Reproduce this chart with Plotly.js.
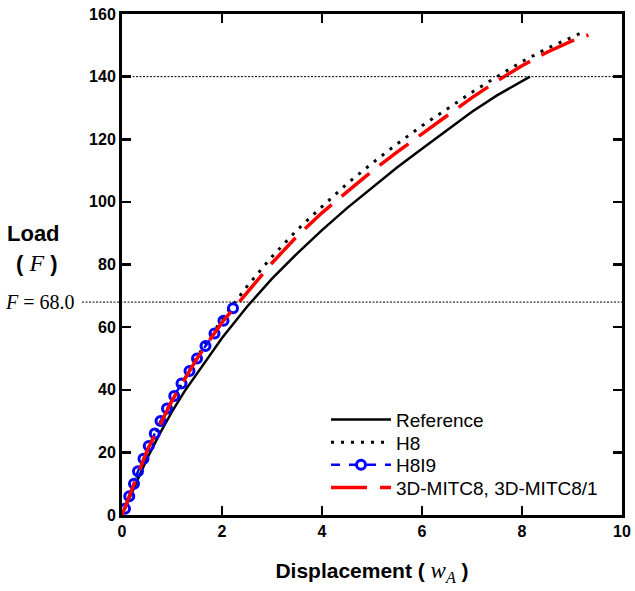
<!DOCTYPE html>
<html>
<head>
<meta charset="utf-8">
<script src="https://cdn.plot.ly/plotly-3.0.1.min.js"></script>
<style>
html, body { margin: 0; padding: 0; background: #fff; }
#chart { width: 635px; height: 591px; }
</style>
</head>
<body>
<div id="chart"></div>
<script>
// ---- data ----
const refX   = [0, 0.25, 0.5, 0.75, 1.0, 1.25, 1.5, 2.0, 2.5, 3.0, 3.5, 4.0, 4.5, 5.0, 5.5, 6.0, 6.5, 7.0, 7.5, 8.16];
const refF   = [0, 9.2, 18, 25.8, 33, 39.5, 45.2, 56.5, 66.5, 75.5, 83.5, 91, 98, 104.5, 111, 117, 123, 128.8, 134, 140];

const h8X    = [0, 0.5, 1.0, 1.5, 2.0, 2.5, 3.0, 3.5, 4.0, 4.5, 5.0, 5.5, 6.0, 6.5, 7.0, 7.5, 8.0, 8.5, 9.0, 9.19];
const h8F    = [0, 20.5, 36.5, 50.5, 62.5, 73, 82.5, 91, 98.5, 105.8, 112.3, 118.5, 124.3, 129.7, 135, 140, 144.8, 149, 152.7, 154];

const h8i9X  = [0.06, 0.145, 0.24, 0.32, 0.43, 0.535, 0.655, 0.77, 0.9, 1.045, 1.19, 1.35, 1.5, 1.67, 1.85, 2.03, 2.22];
const h8i9F  = [2, 6, 10, 14, 18, 22, 26, 30, 34, 38, 42, 46, 50, 54, 58, 62, 66];

const mitcX  = [0, 0.5, 1.0, 1.5, 2.0, 2.5, 3.0, 3.5, 4.0, 4.5, 5.0, 5.5, 6.0, 6.5, 7.0, 7.5, 8.0, 8.5, 9.0, 9.33];
const mitcF  = [0, 20.5, 36.5, 50, 61.5, 71.2, 80.5, 89, 96.5, 103.2, 109.8, 115.9, 121.7, 127.2, 133.3, 138.6, 143.5, 147.8, 151.4, 153.3];

const seriesNames = ["Reference", "H8", "H8I9", "3D-MITC8, 3D-MITC8/1"];
const refLevels = [140, 68];
const xTicks = [0, 2, 4, 6, 8, 10];
const yTicks = [0, 20, 40, 60, 80, 100, 120, 140, 160];

const SANS = "Arial, 'Liberation Sans', sans-serif";
const SERIF = "'Times New Roman', 'Liberation Serif', serif";
const SERIF_CSS = "Liberation Serif, Times New Roman, serif";

const traces = [
  { x: refX, y: refF, name: seriesNames[0], mode: "lines",
    line: { color: "#000", width: 2.5 } },
  { x: h8X, y: h8F, name: seriesNames[1], mode: "lines",
    line: { color: "#000", width: 3, dash: "3px,7px" } },
  { x: h8i9X, y: h8i9F, name: seriesNames[2], mode: "lines+markers",
    line: { color: "#0000ff", width: 2.5, dash: "dash" },
    marker: { symbol: "circle-open", size: 9, color: "#0000ff", line: { width: 3, color: "#0000ff" } } },
  { x: mitcX, y: mitcF, name: seriesNames[3], mode: "lines",
    line: { color: "#ff0000", width: 3.5, dash: "36px,13px" } }
];

const axisCommon = {
  showgrid: false, zeroline: false, showline: true, linewidth: 3, linecolor: "#000",
  mirror: "ticks", ticks: "inside", ticklen: 9, tickwidth: 2.5, tickcolor: "#000",
  tickfont: { family: SANS, size: 16, weight: "bold", color: "#000" }
};

const layout = {
  width: 635, height: 591,
  margin: { l: 122, r: 13, t: 14, b: 76 },
  paper_bgcolor: "#fff", plot_bgcolor: "#fff",
  showlegend: true,
  xaxis: Object.assign({}, axisCommon, {
    range: [0, 10], tickvals: xTicks, ticktext: xTicks.map(String),
    title: { text: 'Displacement ( <span style="font-family:' + SERIF_CSS + ';font-weight:normal;font-size:23px"><i>w</i><sub><i>A</i></sub></span> )',
             font: { family: SANS, size: 21, weight: "bold", color: "#000" }, standoff: 25 }
  }),
  yaxis: Object.assign({}, axisCommon, {
    range: [0, 160], tickvals: yTicks, ticktext: yTicks.map(String)
  }),
  legend: {
    x: 0.408, y: 0.228, xanchor: "left", yanchor: "top",
    bgcolor: "rgba(0,0,0,0)", borderwidth: 0,
    font: { family: SANS, size: 19, color: "#000" },
    itemwidth: 60, tracegroupgap: 0
  },
  shapes: [
    { type: "line", xref: "paper", yref: "y", x0: 0, x1: 1, y0: refLevels[0], y1: refLevels[0],
      line: { color: "#000", width: 1, dash: "2px,1.5px" } },
    { type: "line", xref: "paper", yref: "y", x0: -0.08, x1: 1, y0: refLevels[1], y1: refLevels[1],
      line: { color: "#000", width: 1, dash: "2px,1.5px" } }
  ],
  annotations: [
    { xref: "paper", yref: "paper", x: -0.177, y: 0.562, xanchor: "center", yanchor: "middle", showarrow: false,
      text: "<b>Load</b>", font: { family: SANS, size: 22, color: "#000" } },
    { xref: "paper", yref: "paper", x: -0.171, y: 0.503, xanchor: "center", yanchor: "middle", showarrow: false,
      text: '<b>(</b> <span style="font-family:' + SERIF_CSS + ';font-size:24px"><i>F</i></span> <b>)</b>',
      font: { family: SANS, size: 22, color: "#000" } },
    { xref: "paper", yref: "paper", x: -0.164, y: 0.425, xanchor: "center", yanchor: "middle", showarrow: false,
      text: "<i>F</i> = 68.0", font: { family: SERIF, size: 20, color: "#000" } }
  ]
};

Plotly.newPlot("chart", traces, layout, { staticPlot: true, displayModeBar: false }).then(function (gd) {
  // tighten legend row spacing to match the reference
  const items = gd.querySelectorAll(".legend .traces");
  if (!items.length) return;
  const m = /translate\(\s*([-\d.]+)[ ,]+([-\d.]+)\s*\)/.exec(items[0].getAttribute("transform") || "");
  if (!m) return;
  const x0 = parseFloat(m[1]), y0 = parseFloat(m[2]);
  items.forEach(function (el, i) {
    el.setAttribute("transform", "translate(" + x0 + "," + (y0 + i * 22.6) + ")");
  });
});
</script>
</body>
</html>
